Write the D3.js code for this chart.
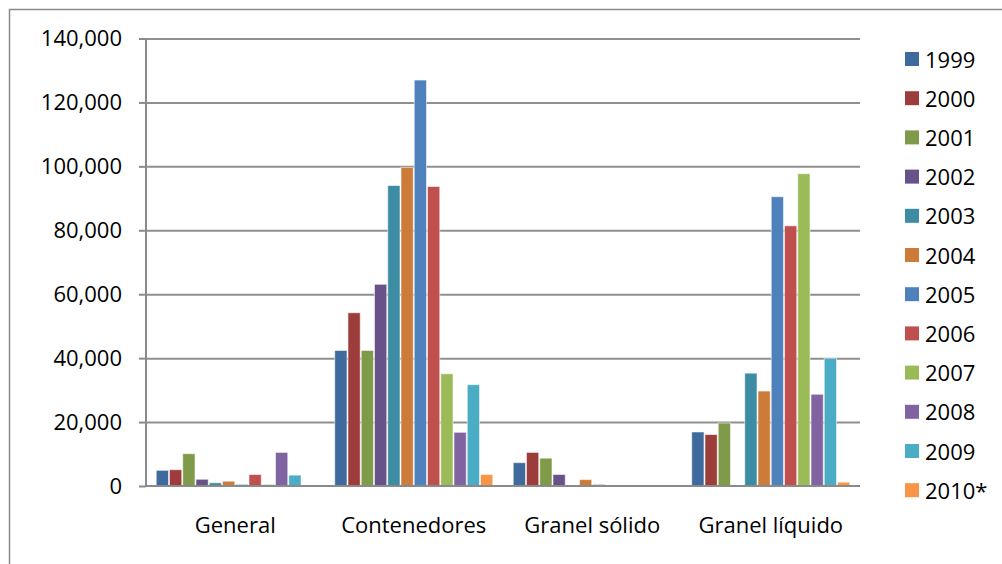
<!DOCTYPE html>
<html>
<head>
<meta charset="utf-8">
<script src="https://cdn.jsdelivr.net/npm/d3@7"></script>
<style>
  html, body { margin: 0; padding: 0; background: #fff; }
  svg { display: block; font-family: "Open Sans", Lato, sans-serif; }
</style>
</head>
<body>
<svg id="chart" width="1002" height="564"></svg>
<script>
// Cargo categories and years
const categories = ["General", "Contenedores", "Granel sólido", "Granel líquido"];
const years = ["1999", "2000", "2001", "2002", "2003", "2004", "2005", "2006", "2007", "2008", "2009", "2010*"];

// Tonnage per year, one value per category (General, Contenedores, Granel sólido, Granel líquido)
const v1999 = [4900, 42400, 7300, 16900];
const v2000 = [5100, 54200, 10500, 16100];
const v2001 = [10100, 42400, 8700, 19700];
const v2002 = [2100, 63100, 3600, 0];
const v2003 = [1000, 94000, 0, 35300];
const v2004 = [1500, 99700, 2000, 29700];
const v2005 = [500, 127000, 500, 90500];
const v2006 = [3600, 93700, 0, 81400];
const v2007 = [500, 35100, 0, 97700];
const v2008 = [10500, 16800, 0, 28700];
const v2009 = [3400, 31700, 0, 40000];
const v2010 = [0, 3600, 0, 1200];

const seriesValues = [v1999, v2000, v2001, v2002, v2003, v2004, v2005, v2006, v2007, v2008, v2009, v2010];

const yTicks = [0, 20000, 40000, 60000, 80000, 100000, 120000, 140000];

const colors = ["#3f6a9e", "#9d3d3b", "#7f9a48", "#67528a", "#3c8ca3", "#cd7b38",
                "#4f81bd", "#c0504d", "#9bbb59", "#8064a2", "#4bacc6", "#f79646"];

const FONT = "'Open Sans', Lato, sans-serif";
const FONT_SIZE = 22;
const svg = d3.select("#chart");

// Outer chart frame (continues past the bottom/right edges)
svg.append("rect")
  .attr("x", 9.5).attr("y", 9.5)
  .attr("width", 1010).attr("height", 580)
  .attr("fill", "none").attr("stroke", "#8a8a8a").attr("stroke-width", 1.5);

const plot = { left: 146, right: 860, top: 38.5, bottom: 486 };

const y = d3.scaleLinear().domain([0, 140000]).range([plot.bottom, plot.top]);

const x0 = d3.scaleBand().domain(categories)
  .range([plot.left, plot.right])
  .paddingInner(0.109).paddingOuter(0.0545);

const x1 = d3.scaleBand().domain(years).range([0, x0.bandwidth()]);

const colorScale = d3.scaleOrdinal().domain(years).range(colors);

// Horizontal gridlines
svg.append("g")
  .attr("transform", `translate(${plot.left},0)`)
  .call(d3.axisLeft(y).tickValues(yTicks.slice(1)).tickSize(-(plot.right - plot.left)).tickFormat(""))
  .call(g => g.select(".domain").remove())
  .call(g => g.selectAll("line").attr("stroke", "#8f8f8f").attr("stroke-width", 2));

// Bars
const rows = categories.map((c, ci) => ({
  category: c,
  values: years.map((yr, si) => ({ year: yr, value: seriesValues[si][ci] }))
}));

svg.append("g").selectAll("g")
  .data(rows)
  .join("g")
  .attr("transform", d => `translate(${x0(d.category)},0)`)
  .selectAll("rect")
  .data(d => d.values.filter(v => v.value > 0))
  .join("rect")
  .attr("x", d => x1(d.year) + 0.5)
  .attr("y", d => y(d.value))
  .attr("width", x1.bandwidth() - 1)
  .attr("height", d => y(0) - y(d.value))
  .attr("fill", d => colorScale(d.year))
  .attr("stroke", "rgba(255,255,255,0.55)")
  .attr("stroke-width", 1);

// Y axis
const yAxis = svg.append("g")
  .attr("transform", `translate(${plot.left},0)`)
  .call(d3.axisLeft(y).tickValues(yTicks).tickSize(7).tickPadding(17).tickFormat(d3.format(",")));
yAxis.select(".domain").attr("stroke", "#8a8a8a").attr("stroke-width", 2)
  .attr("d", `M0,${plot.top}V${plot.bottom}`);
yAxis.selectAll(".tick line").attr("stroke", "#8a8a8a").attr("stroke-width", 2);
yAxis.selectAll(".tick text").attr("font-size", FONT_SIZE).attr("fill", "#000")
  .attr("font-family", FONT);

// X axis
const xAxis = svg.append("g")
  .attr("transform", `translate(0,${plot.bottom})`)
  .call(d3.axisBottom(x0).tickSize(0).tickPadding(31));
xAxis.select(".domain").attr("stroke", "#8a8a8a").attr("stroke-width", 2)
  .attr("d", `M${plot.left},0H${plot.right}`);
xAxis.selectAll(".tick text").attr("font-size", FONT_SIZE).attr("fill", "#000")
  .attr("font-family", FONT);

// Legend
const legend = svg.append("g").attr("transform", "translate(905,52)");
const item = legend.selectAll("g")
  .data(years)
  .join("g")
  .attr("transform", (d, i) => `translate(0,${i * 39.2})`);
item.append("rect")
  .attr("width", 14).attr("height", 14)
  .attr("fill", d => colorScale(d));
item.append("text")
  .attr("x", 20).attr("y", 15.5)
  .attr("font-size", FONT_SIZE).attr("fill", "#000")
  .attr("font-family", FONT)
  .text(d => d);
</script>
</body>
</html>
